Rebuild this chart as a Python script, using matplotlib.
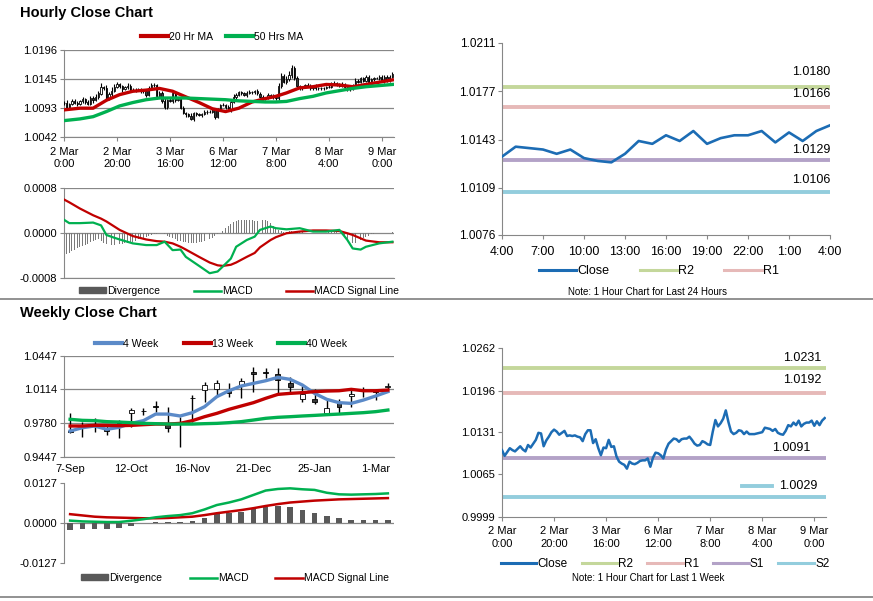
import numpy as np
import matplotlib
matplotlib.use("Agg")
import matplotlib.pyplot as plt
import matplotlib.transforms as mtransforms
from matplotlib.lines import Line2D
from matplotlib.patches import Patch

plt.rcParams['font.family'] = ['Liberation Sans', 'DejaVu Sans']

# ---------------- hourly data (2 Mar 0:00 .. 9 Mar 4:00) ----------------
hourly_close = [
    1.0103, 1.0094, 1.0100, 1.0106, 1.0103, 1.0101, 1.0105, 1.0109, 1.0104, 1.0101,
    1.0111, 1.0107, 1.0113, 1.0119, 1.0130, 1.0129, 1.0109, 1.0118, 1.0124, 1.0131,
    1.0135, 1.0132, 1.0127, 1.0130, 1.0133, 1.0125, 1.0126, 1.0125, 1.0126, 1.0124,
    1.0123, 1.0117, 1.0128, 1.0134, 1.0134, 1.0114, 1.0120, 1.0106, 1.0095, 1.0107,
    1.0106, 1.0119, 1.0108, 1.0109, 1.0093, 1.0085, 1.0082, 1.0080, 1.0074, 1.0085,
    1.0082, 1.0081, 1.0083, 1.0086, 1.0087, 1.0087, 1.0090, 1.0077, 1.0091, 1.0099,
    1.0098, 1.0095, 1.0090, 1.0104, 1.0113, 1.0117, 1.0121, 1.0120, 1.0116, 1.0120,
    1.0121, 1.0121, 1.0124, 1.0119, 1.0113, 1.0110, 1.0111, 1.0117, 1.0115, 1.0112,
    1.0111, 1.0132, 1.0150, 1.0140, 1.0145, 1.0152, 1.0165, 1.0147, 1.0132, 1.0128,
    1.0130, 1.0134, 1.0133, 1.0128, 1.0132, 1.0128, 1.0128, 1.0128, 1.0129, 1.0130,
    1.0131, 1.0138, 1.0137, 1.0136, 1.0133, 1.0136, 1.0130, 1.0128, 1.0127, 1.0133,
    1.0142, 1.0140, 1.0146, 1.0142, 1.0149, 1.0140, 1.0144, 1.0146, 1.0146, 1.0149,
    1.0141, 1.0148, 1.0142, 1.0149, 1.0153,
]
# candle wicks in pips above / below the body
wick_up = [
    3, 4, 2, 4, 3, 2, 3, 4, 2, 3, 4, 3, 5, 4, 8, 3, 5, 4, 6, 5, 4, 3, 2, 3, 4,
    2, 3, 2, 3, 2, 3, 4, 5, 3, 3, 2, 4, 3, 5, 2, 4, 3, 2, 3, 2, 3, 2, 3, 4, 2,
    2, 3, 2, 3, 2, 3, 4, 2, 3, 2, 3, 2, 3, 4, 5, 3, 2, 3, 2, 3, 4, 3, 2, 3, 2,
    3, 2, 3, 2, 3, 4, 5, 6, 3, 5, 6, 4, 3, 3, 2, 3, 2, 3, 2, 2, 3, 2, 3, 2, 3,
    3, 2, 4, 3, 2, 3, 2, 3, 2, 3, 4, 3, 3, 2, 3, 2, 3, 2, 3, 2, 3, 4, 3, 2, 4,
]
wick_dn = [
    4, 5, 3, 2, 3, 4, 2, 3, 4, 2, 3, 4, 2, 3, 2, 4, 3, 2, 3, 2, 3, 4, 5, 2, 3,
    3, 2, 3, 2, 4, 3, 5, 2, 3, 4, 5, 3, 4, 3, 4, 2, 3, 4, 3, 2, 3, 4, 3, 2, 4,
    3, 2, 3, 2, 3, 2, 3, 4, 2, 3, 2, 3, 2, 3, 2, 3, 2, 3, 2, 3, 2, 3, 2, 3, 2,
    2, 3, 2, 3, 2, 3, 4, 3, 2, 4, 3, 5, 4, 3, 2, 3, 2, 3, 2, 3, 2, 3, 2, 3, 2,
    2, 3, 2, 3, 3, 2, 3, 4, 3, 2, 3, 2, 3, 2, 3, 2, 3, 2, 2, 3, 2, 3, 2, 3, 2,
]
hour_ticks = [0, 20, 40, 60, 80, 100, 120]
hour_labels = ['2 Mar\n0:00', '2 Mar\n20:00', '3 Mar\n16:00', '6 Mar\n12:00',
               '7 Mar\n8:00', '8 Mar\n4:00', '9 Mar\n0:00']

ma_hours = [0, 6, 11, 16, 21, 26, 31, 36, 41, 46, 51, 56, 61, 66, 71, 76, 80,
            84, 89, 94, 99, 104, 109, 114, 119, 124]
ma20 = [1.0090, 1.0093, 1.0093, 1.0107, 1.0117, 1.0123, 1.0125, 1.0128, 1.0123,
        1.0113, 1.0103, 1.0092, 1.0087, 1.0093, 1.0104, 1.0110, 1.0114, 1.0120,
        1.0129, 1.0131, 1.0135, 1.0134, 1.0131, 1.0135, 1.0139, 1.0143]
ma50 = [1.0071, 1.0074, 1.0078, 1.0087, 1.0097, 1.0103, 1.0108, 1.0111, 1.0111,
        1.0111, 1.0110, 1.0109, 1.0108, 1.0106, 1.0105, 1.0104, 1.0104, 1.0105,
        1.0110, 1.0114, 1.0120, 1.0124, 1.0128, 1.0131, 1.0133, 1.0135]

macd_hours = [0, 2, 6, 11, 14, 16, 19, 21, 26, 31, 35, 38, 41, 44, 46, 51, 55, 58,
              60, 63, 65, 69, 72, 74, 78, 80, 84, 89, 94, 99, 104, 107, 109, 112,
              114, 119, 124]
macd_h = [0.00023, 0.00017, 0.00017, 0.00018, 0.00013, -0.00004, -0.00009, -0.00012,
          -0.00019, -0.00022, -0.00022, -0.00016, -0.00031, -0.00030, -0.00043,
          -0.00059, -0.00072, -0.00069, -0.00060, -0.00046, -0.00025, -0.00013,
          -0.00007, 0.00005, 0.00011, 0.00008, 0.00006, 0.00008, 0.00002, 0.00002,
          0.00005, -0.00013, -0.00028, -0.00030, -0.00025, -0.00019, -0.00016]
signal_h = [0.00059, 0.00054, 0.00043, 0.00031, 0.00025, 0.00020, 0.00011, 0.00005,
            -0.00006, -0.00012, -0.00015, -0.00016, -0.00019, -0.00025, -0.00030,
            -0.00043, -0.00053, -0.00058, -0.00059, -0.00057, -0.00053, -0.00043,
            -0.00036, -0.00026, -0.00013, -0.00008, -0.00001, 0.00002, 0.00004,
            0.00004, 0.00003, -0.00001, -0.00004, -0.00010, -0.00014, -0.00017,
            -0.00017]
# divergence per hour, in units of 1e-5
div_h = [
    -40, -38, -36, -33, -30, -28, -26, -24, -22, -20,
    -17, -15, -13, -12, -15, -18, -20, -21, -22, -22,
    -21, -20, -20, -19, -18, -17, -16, -14, -12, -10,
    -9, -7, -5, -4, -3, -2, -1, 0, -2, -5,
    -8, -10, -12, -14, -15, -16, -17, -18, -18, -18,
    -18, -17, -16, -14, -13, -11, -9, -6, -3, 0,
    3, 8, 12, 16, 19, 21, 22, 23, 23, 22,
    22, 22, 21, 21, 22, 23, 22, 20, 17, 12,
    8, 5, 3, 2, 2, 3, 3, 2, 2, 1,
    1, 1, 0, 0, -1, -1, -1, 0, 0, 0,
    1, 1, 1, 1, 0, -3, -8, -12, -16, -18,
    -18, -16, -13, -10, -7, -5, -3, -2, -1, -1,
    0, 0, 0, 0, 1,
]

day_labels = ['4:00', '7:00', '10:00', '13:00', '16:00', '19:00', '22:00', '1:00', '4:00']
day_levels = {'R2': 1.0180, 'R1': 1.0166, 'S1': 1.0129, 'S2': 1.0106}
week_levels = {'R2': 1.0231, 'R1': 1.0192, 'S1': 1.0091, 'S2': 1.0029}

# ---------------- weekly data ----------------
week_labels = ['7-Sep', '12-Oct', '16-Nov', '21-Dec', '25-Jan', '1-Mar']
weekly_open = [0.9700, 0.9755, 0.9765, 0.9728, 0.9761, 0.9883, 0.9899, 0.9949, 0.9761,
               0.9777, 1.0031, 1.0107, 1.0114, 1.0100, 1.0157, 1.0289, 1.0285, 1.0265,
               1.0173, 1.0015, 1.0018, 0.9883, 0.9975, 1.0051, 1.0097, 1.0100, 1.0133]
weekly_close = [0.9690, 0.9765, 0.9752, 0.9704, 0.9777, 0.9909, 0.9903, 0.9935, 0.9728,
                0.9770, 1.0025, 1.0157, 1.0173, 1.0080, 1.0198, 1.0265, 1.0273, 1.0206,
                1.0133, 1.0067, 0.9992, 0.9926, 0.9942, 1.0064, 1.0107, 1.0087, 1.0147]
weekly_high = [0.9883, 0.9794, 0.9827, 0.9761, 0.9810, 0.9926, 0.9926, 0.9998, 0.9942,
               0.9843, 1.0058, 1.0190, 1.0206, 1.0173, 1.0223, 1.0338, 1.0322, 1.0322,
               1.0239, 1.0147, 1.0114, 1.0008, 1.0015, 1.0107, 1.0133, 1.0117, 1.0173]
weekly_low = [0.9678, 0.9645, 0.9694, 0.9662, 0.9629, 0.9744, 0.9860, 0.9893, 0.9694,
              0.9546, 0.9794, 0.9992, 1.0058, 1.0041, 1.0025, 1.0091, 1.0223, 1.0064,
              1.0074, 0.9992, 0.9968, 0.9860, 0.9876, 0.9942, 1.0041, 1.0008, 1.0114]
ma4w = [0.9701, 0.9734, 0.9751, 0.9718, 0.9738, 0.9777, 0.9804, 0.9869, 0.9869, 0.9850,
        0.9883, 0.9942, 1.0041, 1.0100, 1.0147, 1.0173, 1.0199, 1.0232, 1.0213, 1.0157,
        1.0074, 1.0015, 0.9982, 0.9975, 1.0008, 1.0048, 1.0091]
ma13w = [0.9751, 0.9751, 0.9757, 0.9757, 0.9754, 0.9757, 0.9764, 0.9770, 0.9770, 0.9777,
         0.9804, 0.9843, 0.9876, 0.9916, 0.9949, 0.9982, 1.0025, 1.0064, 1.0074, 1.0081,
         1.0091, 1.0097, 1.0100, 1.0114, 1.0100, 1.0100, 1.0107]
ma40w = [0.9817, 0.9807, 0.9804, 0.9794, 0.9790, 0.9784, 0.9777, 0.9774, 0.9770, 0.9770,
         0.9770, 0.9774, 0.9777, 0.9784, 0.9794, 0.9810, 0.9827, 0.9837, 0.9843, 0.9850,
         0.9856, 0.9863, 0.9869, 0.9876, 0.9883, 0.9893, 0.9909]
macd_w = [0.00085, 0.0006, 0.0005, 0.0004, 0.0004, 0.0008, 0.0013, 0.0019, 0.0023, 0.0026,
          0.0032, 0.0044, 0.0058, 0.0066, 0.0076, 0.0090, 0.0104, 0.0109, 0.0111, 0.0108,
          0.0106, 0.0097, 0.0092, 0.0091, 0.0092, 0.0093, 0.0095]
signal_w = [0.0029, 0.0025, 0.0021, 0.0019, 0.0018, 0.0017, 0.0016, 0.0016, 0.0017, 0.0019,
            0.0021, 0.0026, 0.0032, 0.0037, 0.0042, 0.0048, 0.0055, 0.0061, 0.0066, 0.0069,
            0.0072, 0.0074, 0.0076, 0.0077, 0.0078, 0.0079, 0.0080]
div_w = [-0.0021, -0.0019, -0.0019, -0.0019, -0.0016, -0.0007, 0.0002, 0.0004, 0.0004,
         0.0005, 0.0008, 0.0018, 0.0030, 0.0032, 0.0037, 0.0048, 0.0053, 0.0055, 0.0051,
         0.0042, 0.0034, 0.0023, 0.0016, 0.0011, 0.0011, 0.0011, 0.0012]

# ---------------- styling ----------------
RED = '#C00000'
GREEN = '#00B050'
BLUE4W = '#5B8AC8'
CLOSE = '#1C6CB4'
LEVEL_COL = {'R2': '#C4D79B', 'R1': '#E6B9B8', 'S1': '#B3A2C7', 'S2': '#93CDDD'}
GRID = '#878787'
W, H = 873, 601

fig = plt.figure(figsize=(W / 100, H / 100), dpi=100)


def box(l, t, r, b):
    return fig.add_axes([l / W, 1 - b / H, (r - l) / W, (b - t) / H])


def style(ax, ticks, size=8, grid=True):
    for s in ('top', 'right'):
        ax.spines[s].set_visible(False)
    for s in ('left', 'bottom'):
        ax.spines[s].set_color(GRID)
    ax.set_ylim(ticks[0], ticks[-1])
    ax.set_yticks(ticks)
    ax.set_yticklabels([f'{t:.4f}' for t in ticks])
    ax.tick_params(labelsize=size, color=GRID, length=3, width=0.8, pad=2)
    if grid:
        ax.yaxis.grid(True, color=GRID, lw=0.9)
        ax.set_axisbelow(True)


def candles(ax, x, o, h, l, c, width, wick_lw):
    o, h, l, c = map(np.asarray, (o, h, l, c))
    ax.vlines(x, l, h, color='black', lw=wick_lw, zorder=3)
    up = c >= o
    ax.bar(x, c - o, bottom=o, width=width, color=np.where(up, 'white', '#3a3a3a'),
           edgecolor='black', lw=0.6, zorder=4)


fig.text(20 / W, 1 - 13 / H, 'Hourly Close Chart', fontsize=10.5, fontweight='bold', va='center')
fig.text(20 / W, 1 - 313 / H, 'Weekly Close Chart', fontsize=10.5, fontweight='bold', va='center')
fig.add_artist(Line2D([0, 1], [1 - 298.5 / H] * 2, color='#7f7f7f', lw=1.2))
fig.add_artist(Line2D([0, 1], [1 - 596.5 / H] * 2, color='#7f7f7f', lw=1.2))

# ---- panel 1: hourly candles ----
xh = np.arange(len(hourly_close))
close = np.array(hourly_close)
opens = np.r_[close[0], close[:-1]]
highs = np.maximum(opens, close) + np.array(wick_up) * 1e-4
lows = np.minimum(opens, close) - np.array(wick_dn) * 1e-4
ax1 = box(64, 50, 394, 137)
style(ax1, [1.0042, 1.0093, 1.0145, 1.0196])
candles(ax1, xh, opens, highs, lows, close, 0.5, 0.8)
ax1.plot(ma_hours, ma20, color=RED, lw=2.4, zorder=5)
ax1.plot(ma_hours, ma50, color=GREEN, lw=2.4, zorder=5)
ax1.set_xlim(0, 124.6)
ax1.set_xticks(hour_ticks)
ax1.set_xticklabels(hour_labels, linespacing=1.3)
ax1.tick_params(axis='x', pad=4)
fig.legend(handles=[Line2D([], [], color=RED, lw=3, label='20 Hr MA'),
                    Line2D([], [], color=GREEN, lw=3, label='50 Hrs MA')],
           loc='center', bbox_to_anchor=(222 / W, 1 - 37 / H), ncol=2, frameon=False,
           fontsize=7.5, handlelength=2.6, handletextpad=0.1, columnspacing=1.2)

# ---- panel 2: hourly MACD ----
ax2 = box(64, 187.7, 394, 277.7)
style(ax2, [-0.0008, 0.0, 0.0008])
ax2.bar(xh, np.array(div_h) * 1e-5, width=0.35, color='#7a7a7a', zorder=2)
ax2.plot(macd_hours, macd_h, color=GREEN, lw=1.6, zorder=4)
ax2.plot(macd_hours, signal_h, color=RED, lw=1.6, zorder=3)
ax2.set_xlim(0, 124.6)
ax2.set_xticks([])
fig.legend(handles=[Patch(color='#595959', label='Divergence'),
                    Line2D([], [], color=GREEN, lw=1.8, label='MACD'),
                    Line2D([], [], color=RED, lw=1.8, label='MACD Signal Line')],
           loc='center', bbox_to_anchor=(239 / W, 1 - 291 / H), ncol=3, frameon=False,
           fontsize=7.5, handlelength=2.6, handleheight=0.5, handletextpad=0.1,
           columnspacing=3.2)

# ---- panel 3: last 24 hours ----
last_day = hourly_close[-25:]
ax3 = box(502, 42.7, 830, 235)
style(ax3, [1.0076, 1.0109, 1.0143, 1.0177, 1.0211], size=8.5, grid=False)
day_offsets = {'R2': 10.8, 'R1': 9.1, 'S1': 7.2, 'S2': 8.6}
for k, v in day_levels.items():
    ax3.axhline(v, color=LEVEL_COL[k], lw=2.8, zorder=2)
    ax3.annotate(f'{v:.4f}', xy=(1, v), xycoords=('axes fraction', 'data'),
                 xytext=(0, day_offsets[k]), textcoords='offset points',
                 ha='right', va='center', fontsize=9)
ax3.plot(np.arange(len(last_day)), last_day, color=CLOSE, lw=1.9, zorder=3)
ax3.set_xlim(0, 24)
ax3.set_xticks(range(0, 25, 3))
ax3.set_xticklabels(day_labels, fontsize=9)
ax3.tick_params(axis='x', pad=5)
fig.legend(handles=[Line2D([], [], color=CLOSE, lw=2.2, label='Close'),
                    Line2D([], [], color=LEVEL_COL['R2'], lw=2.2, label='R2'),
                    Line2D([], [], color=LEVEL_COL['R1'], lw=2.2, label='R1')],
           loc='center', bbox_to_anchor=(659 / W, 1 - 271 / H), ncol=3, frameon=False,
           fontsize=9, handlelength=3.0, handletextpad=0.1, columnspacing=2.4)
fig.text(648 / W, 1 - 292 / H, 'Note: 1 Hour Chart for Last 24 Hours', fontsize=7,
         ha='center', va='center')

# ---- panel 4: weekly candles ----
xw = np.arange(len(weekly_close))
ax4 = box(64, 355.7, 394, 456.7)
style(ax4, [0.9447, 0.9780, 1.0114, 1.0447])
candles(ax4, xw, weekly_open, weekly_high, weekly_low, weekly_close, 0.4, 1.0)
ax4.plot(xw, ma4w, color=BLUE4W, lw=2.4, zorder=5)
ax4.plot(xw, ma13w, color=RED, lw=2.4, zorder=5)
ax4.plot(xw, ma40w, color=GREEN, lw=2.4, zorder=5)
ax4.set_xlim(-0.5, 26.5)
ax4.set_xticks(range(0, 26, 5))
ax4.set_xticklabels(week_labels)
ax4.tick_params(axis='x', length=0, pad=5)
fig.legend(handles=[Line2D([], [], color=BLUE4W, lw=3, label='4 Week'),
                    Line2D([], [], color=RED, lw=3, label='13 Week'),
                    Line2D([], [], color=GREEN, lw=3, label='40 Week')],
           loc='center', bbox_to_anchor=(221 / W, 1 - 344 / H), ncol=3, frameon=False,
           fontsize=7.5, handlelength=2.6, handletextpad=0.1, columnspacing=2.4)

# ---- panel 5: weekly MACD ----
ax5 = box(64, 483.3, 394, 563.3)
style(ax5, [-0.0127, 0.0, 0.0127])
ax5.yaxis.grid(False)
ax5.axhline(0, color=GRID, lw=0.9, zorder=1)
ax5.bar(xw, div_w, width=0.45, color='#595959', zorder=2)
ax5.plot(xw, macd_w, color=GREEN, lw=1.8, zorder=4)
ax5.plot(xw, signal_w, color=RED, lw=1.8, zorder=3)
ax5.set_xlim(-0.5, 26.5)
ax5.set_xticks([])
ax5.spines['bottom'].set_visible(False)
fig.legend(handles=[Patch(color='#595959', label='Divergence'),
                    Line2D([], [], color=GREEN, lw=1.8, label='MACD'),
                    Line2D([], [], color=RED, lw=1.8, label='MACD Signal Line')],
           loc='center', bbox_to_anchor=(235 / W, 1 - 578 / H), ncol=3, frameon=False,
           fontsize=7.5, handlelength=2.6, handleheight=0.5, handletextpad=0.1,
           columnspacing=2.6)

# ---- panel 6: last week hourly close ----
ax6 = box(502, 348.3, 826, 516.7)
style(ax6, [0.9999, 1.0065, 1.0131, 1.0196, 1.0262], size=8, grid=False)
week_offsets = {'R2': 7.6, 'R1': 9.4, 'S1': 7.0, 'S2': 8.6}
week_right = {'R2': 0.985, 'R1': 0.985, 'S1': 0.952, 'S2': 0.975}
for k, v in week_levels.items():
    ax6.axhline(v, color=LEVEL_COL[k], lw=2.8, zorder=2)
    ax6.annotate(f'{v:.4f}', xy=(week_right[k], v), xycoords=('axes fraction', 'data'),
                 xytext=(0, week_offsets[k]), textcoords='offset points',
                 ha='right', va='center', fontsize=9)
# legend key drawn in front of the S2 label
key_tr = mtransforms.offset_copy(
    mtransforms.blended_transform_factory(ax6.transAxes, ax6.transData),
    fig=fig, y=week_offsets['S2'], units='points')
ax6.add_line(Line2D([0.74, 0.832], [week_levels['S2']] * 2, color=LEVEL_COL['S2'],
                    lw=2.8, transform=key_tr))
ax6.plot(xh, hourly_close, color=CLOSE, lw=1.8, zorder=3)
ax6.set_xlim(0, 124.5)
ax6.set_xticks(hour_ticks)
ax6.set_xticklabels(hour_labels, fontsize=8, linespacing=1.35)
ax6.tick_params(axis='x', pad=4)
fig.legend(handles=[Line2D([], [], color=CLOSE, lw=2.2, label='Close')] +
           [Line2D([], [], color=LEVEL_COL[k], lw=2.2, label=k) for k in week_levels],
           loc='center', bbox_to_anchor=(665 / W, 1 - 564 / H), ncol=5, frameon=False,
           fontsize=8.5, handlelength=3.0, handletextpad=0.1, columnspacing=1.2)
fig.text(648 / W, 1 - 578 / H, 'Note: 1 Hour Chart for Last 1 Week', fontsize=7,
         ha='center', va='center')

fig.savefig('out.png', dpi=100)
